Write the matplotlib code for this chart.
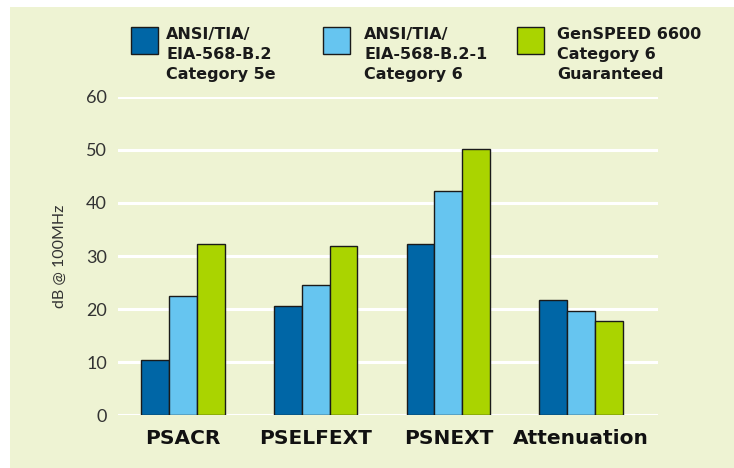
import matplotlib
matplotlib.use("Agg")
import matplotlib.pyplot as plt
from matplotlib.patches import Rectangle
import numpy as np

categories = ["PSACR", "PSELFEXT", "PSNEXT", "Attenuation"]
series_names = ["ANSI/TIA/\nEIA-568-B.2\nCategory 5e",
                "ANSI/TIA/\nEIA-568-B.2-1\nCategory 6",
                "GenSPEED 6600\nCategory 6\nGuaranteed"]
cat5e = [10.4, 20.6, 32.2, 21.8]
cat6 = [22.4, 24.6, 42.3, 19.6]
genspeed = [32.3, 31.9, 50.2, 17.7]
yticks = [0, 10, 20, 30, 40, 50, 60]
ylabel = "dB @ 100MHz"

colors = ["#0066A6", "#66C5F0", "#AAD400"]
bg = "#EEF3D3"

W, H = 734, 468
fig = plt.figure(figsize=(W / 100, H / 100), dpi=100)
fig.patch.set_facecolor("white")
bgrect = Rectangle((10 / W, 0), 1 - 10 / W, 1 - 7 / H,
                   transform=fig.transFigure, facecolor=bg,
                   edgecolor="none", zorder=-10)
fig.add_artist(bgrect)

ax = fig.add_axes([118 / W, 1 - 415.3 / H, (658 - 118) / W, (415.3 - 96.7) / H])
ax.set_facecolor("none")
x = np.arange(len(categories))
bw = 0.21
for i, (vals, c) in enumerate(zip([cat5e, cat6, genspeed], colors)):
    ax.bar(x + (i - 1) * bw, vals, width=bw, color=c, edgecolor="#1a1a1a",
           linewidth=1.0, zorder=3)

ax.set_ylim(0, 60)
ax.set_xlim(-0.489, 3.579)
ax.set_yticks(yticks)
ax.yaxis.grid(True, color="white", linewidth=2.2, zorder=1)
ax.set_axisbelow(True)
for s in ax.spines.values():
    s.set_visible(False)
ax.tick_params(axis="y", length=0, pad=8, labelsize=13, labelcolor="#333333")
ax.tick_params(axis="x", length=0, pad=10)
for lab in ax.get_yticklabels():
    lab.set_fontfamily(["Lato", "DejaVu Sans"])
    lab.set_fontweight("normal")
ax.set_xticks(x)
ax.set_xticklabels(categories, fontsize=14.5, fontweight="bold", color="#111111")
ax.set_ylabel(ylabel, fontsize=11.5, color="#333333", labelpad=14,
              family=["Lato", "DejaVu Sans"], fontweight="normal")

# legend drawn manually
patch_x = [131, 323, 517]
text_x = [166, 364, 557]
for px, tx, c, name in zip(patch_x, text_x, colors, series_names):
    fig.add_artist(Rectangle((px / W, 1 - 54 / H), 27 / W, 27 / H,
                             transform=fig.transFigure, facecolor=c,
                             edgecolor="#1a1a1a", linewidth=1.0, zorder=3))
    fig.text(tx / W, 1 - 27 / H, name, ha="left", va="top", fontsize=11.5,
             fontweight="bold", color="#1a1a1a", linespacing=1.4)

fig.savefig("out.png", dpi=100, facecolor=fig.get_facecolor())
